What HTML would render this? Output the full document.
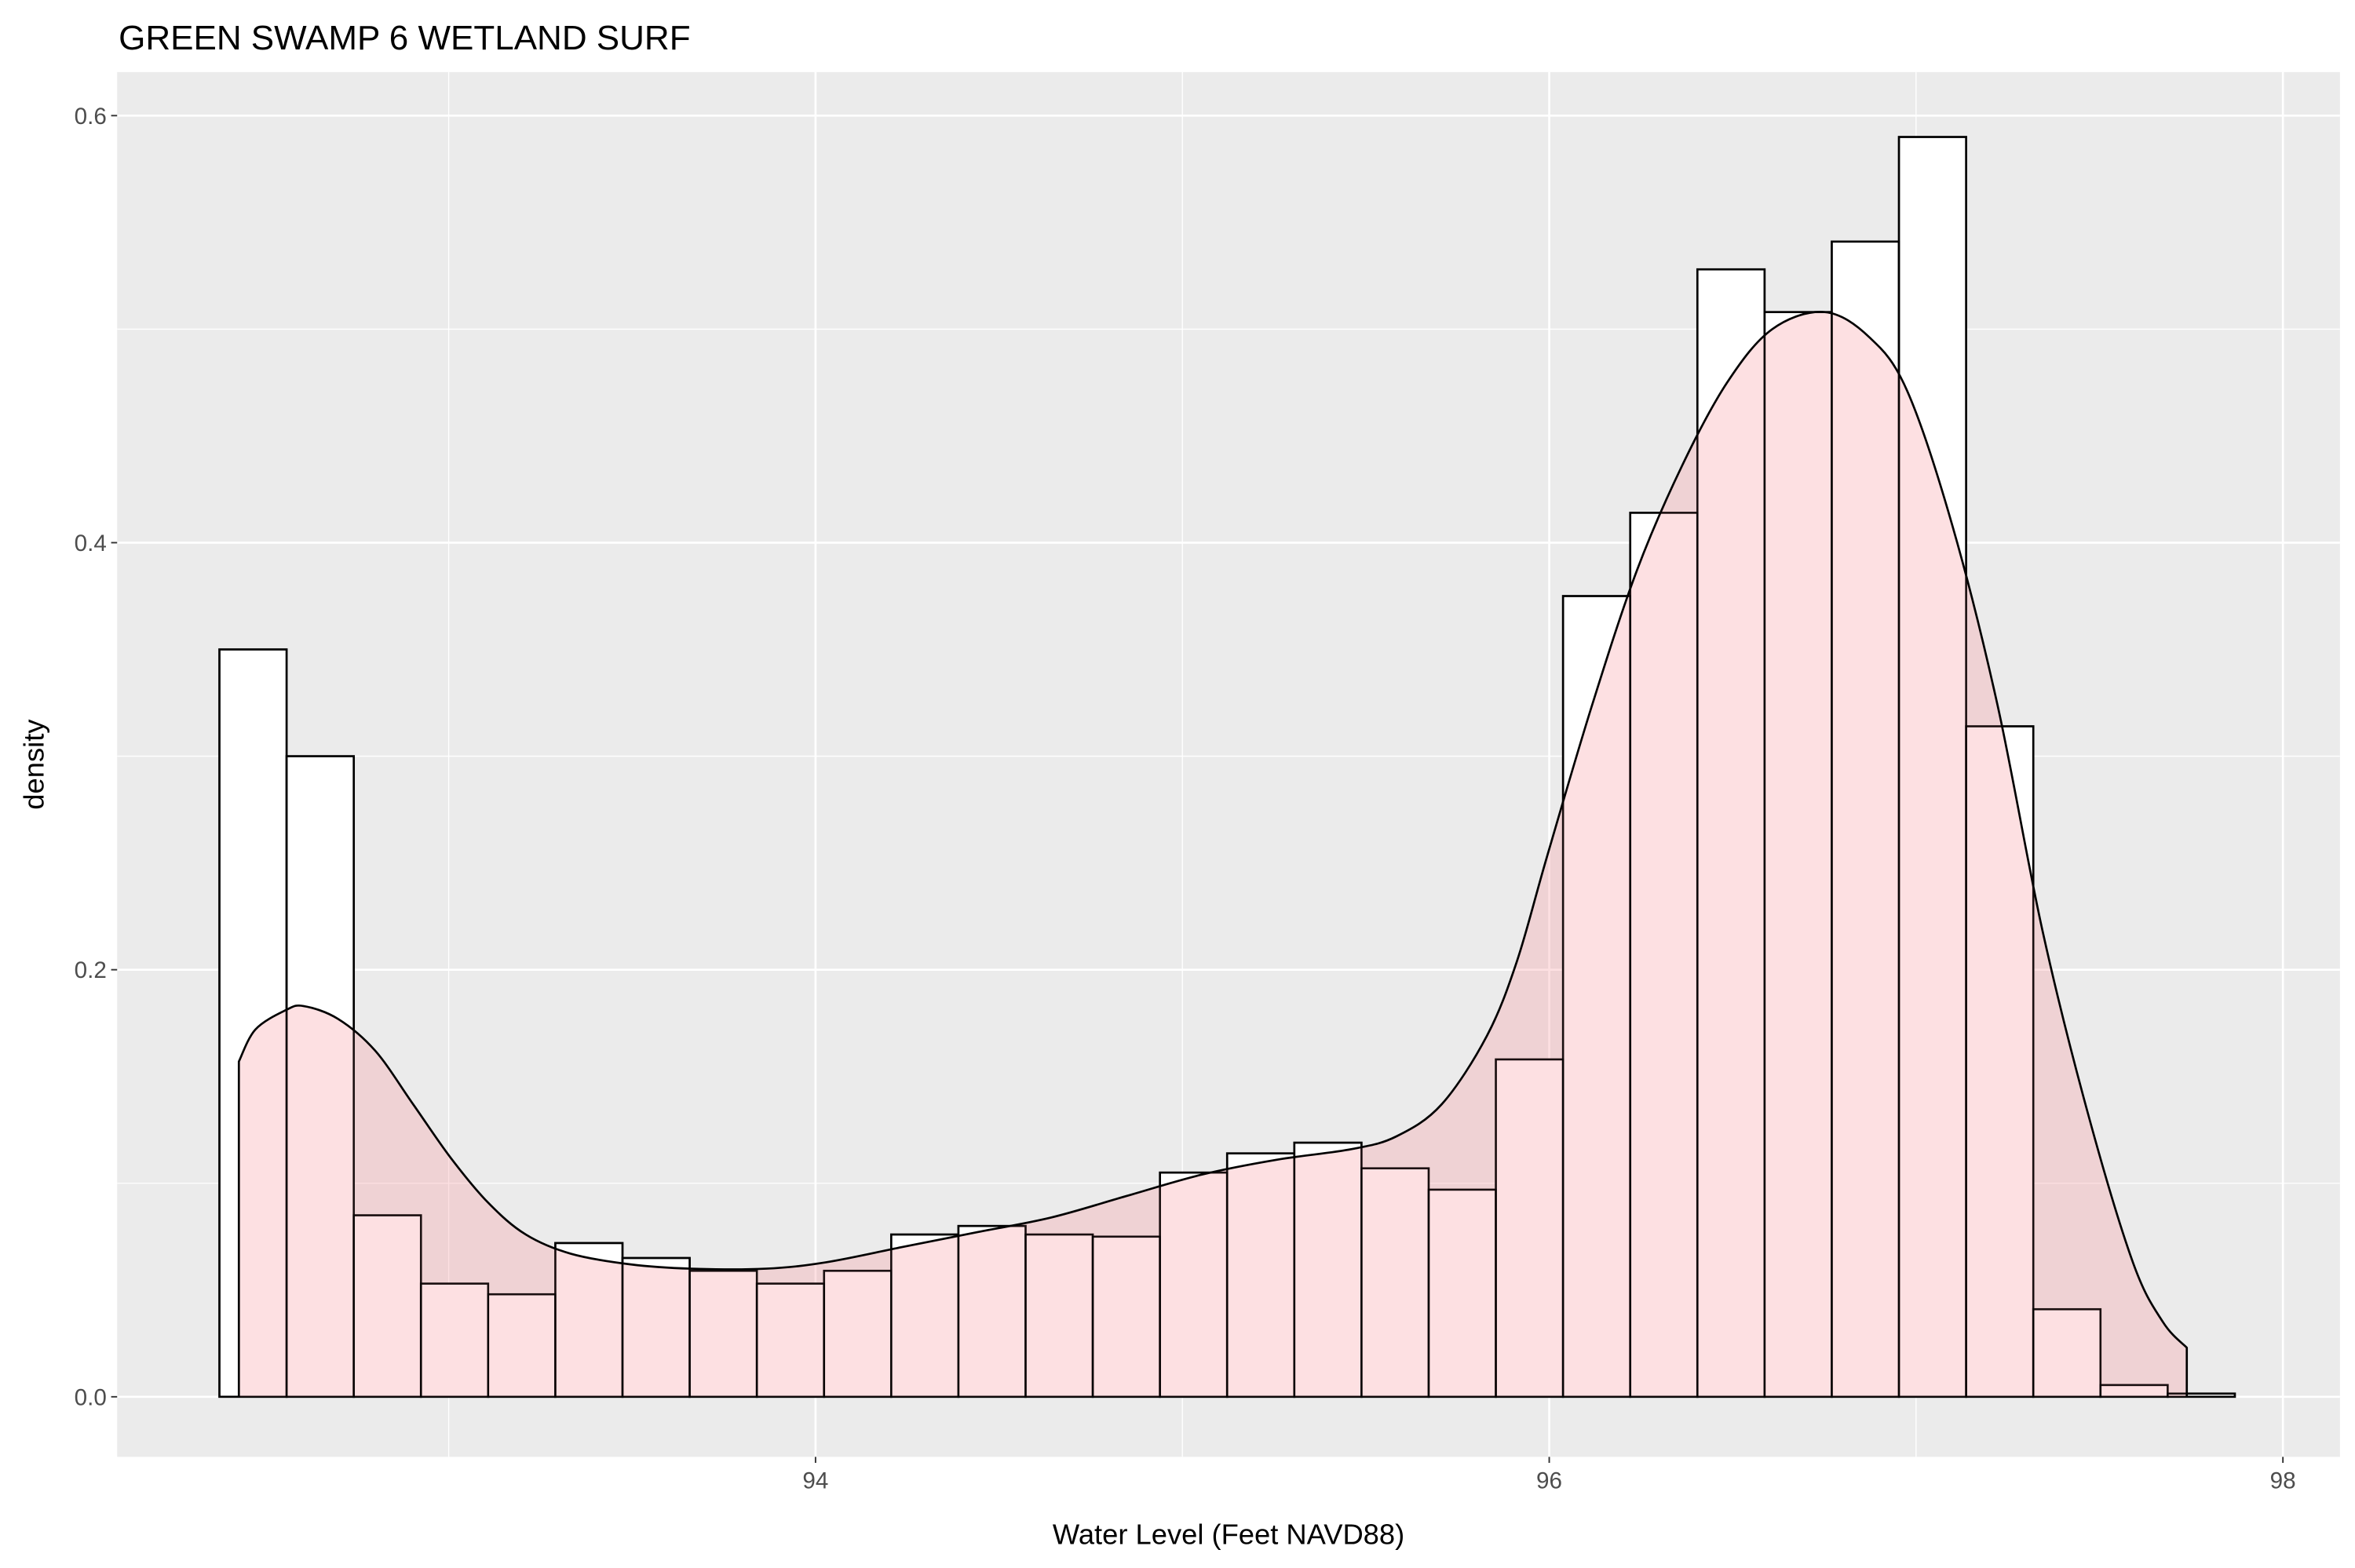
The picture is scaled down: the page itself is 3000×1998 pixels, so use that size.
<!DOCTYPE html>
<html><head><meta charset="utf-8"><style>
html,body{margin:0;padding:0;background:#fff;}
svg{display:block;}
</style></head><body>
<svg id="chart" width="3000" height="1998" viewBox="0 0 1568 1044" preserveAspectRatio="none" xmlns="http://www.w3.org/2000/svg" font-family="Liberation Sans, sans-serif">
<text x="79" y="33" font-size="23" fill="#000">GREEN SWAMP 6 WETLAND SURF</text>
<rect x="78" y="48" width="1480" height="922" fill="#ebebeb"/>
<g id="grid"></g>
<g id="bars"></g>
<g id="dens"></g>
<g id="outl"></g>
<g id="axes"></g>
<text x="818" y="1028" font-size="19" text-anchor="middle" fill="#000">Water Level (Feet NAVD88)</text>
<text transform="translate(29,509) rotate(-90)" font-size="19" text-anchor="middle" fill="#000">density</text>
</svg>
<script>
const binStart = 92.375;
const binEnd = 97.869;
const barDensity = [0.35,0.30,0.085,0.053,0.048,0.072,0.065,0.059,0.053,0.059,0.076,0.080,0.076,0.075,0.105,0.114,0.119,0.107,0.097,0.158,0.375,0.414,0.528,0.508,0.541,0.590,0.314,0.041,0.0055,0.0015];
const densX = [92.428,92.473,92.555,92.604,92.698,92.800,92.903,93.005,93.107,93.210,93.333,93.496,93.660,93.865,94.029,94.233,94.438,94.643,94.847,95.052,95.257,95.462,95.584,95.707,95.830,95.912,95.994,96.117,96.239,96.362,96.485,96.608,96.751,96.874,96.976,97.099,97.222,97.345,97.468,97.591,97.673,97.738];
const densY = [0.157,0.172,0.181,0.183,0.177,0.162,0.137,0.112,0.091,0.076,0.067,0.062,0.060,0.060,0.063,0.070,0.077,0.084,0.094,0.104,0.111,0.116,0.122,0.137,0.169,0.204,0.253,0.324,0.387,0.436,0.475,0.500,0.508,0.496,0.471,0.408,0.324,0.218,0.133,0.063,0.035,0.023];
const xTicks = [94,96,98];
const xMinor = [93,95,97];
const yTicks = [0,0.2,0.4,0.6];
const yTickLabels = ["0.0","0.2","0.4","0.6"];
const yMinor = [0.1,0.3,0.5];

const NS="http://www.w3.org/2000/svg";
const X = v => 543 + (v-94)*244.25;
const Y = v => 930 - v*1421.7;
function mk(tag, attrs, parent){const e=document.createElementNS(NS,tag);for(const k in attrs)e.setAttribute(k,attrs[k]);parent.appendChild(e);return e;}
const grid=document.getElementById('grid'), bars=document.getElementById('bars'), dens=document.getElementById('dens'), axes=document.getElementById('axes'), outl=document.getElementById('outl');
yMinor.forEach(v=>{const l=mk('line',{x1:78,x2:1558,y1:Y(v),y2:Y(v),stroke:'#fff','stroke-width':0.7},grid);

});
xMinor.forEach(v=>{const l=mk('line',{x1:X(v),x2:X(v),y1:48,y2:970,stroke:'#fff','stroke-width':0.7},grid);

});
yTicks.forEach((v,i)=>{const l=mk('line',{x1:78,x2:1558,y1:Y(v),y2:Y(v),stroke:'#fff','stroke-width':1.4},grid);


const t=mk('line',{x1:74,x2:78,y1:Y(v),y2:Y(v),stroke:'#333','stroke-width':1},axes);


const tx=mk('text',{x:71,y:Y(v)+5.5,'font-size':15.5,'text-anchor':'end',fill:'#4d4d4d'},axes);tx.textContent=yTickLabels[i];

});
xTicks.forEach(v=>{const l=mk('line',{x1:X(v),x2:X(v),y1:48,y2:970,stroke:'#fff','stroke-width':1.4},grid);


const t=mk('line',{x1:X(v),x2:X(v),y1:970,y2:974,stroke:'#333','stroke-width':1},axes);


const tx=mk('text',{x:X(v),y:991,'font-size':15.5,'text-anchor':'middle',fill:'#4d4d4d'},axes);tx.textContent=String(v);

});
const bw=(binEnd-binStart)/barDensity.length;
barDensity.forEach((d,i)=>{const x0=X(binStart+i*bw),x1=X(binStart+(i+1)*bw);
const r=mk('rect',{x:x0,y:Y(d),width:x1-x0,height:Y(0)-Y(d),fill:'#fff',stroke:'#000','stroke-width':1.4},bars);


const o=mk('rect',{x:x0,y:Y(d),width:x1-x0,height:Y(0)-Y(d),fill:'none',stroke:'#000','stroke-width':1.2,'stroke-opacity':0.7},outl);

});
const P=densX.map((x,i)=>[X(x),Y(densY[i])]);
let sp='M'+P[0][0].toFixed(2)+','+P[0][1].toFixed(2);
for(let i=0;i<P.length-1;i++){const p0=P[Math.max(0,i-1)],p1=P[i],p2=P[i+1],p3=P[Math.min(P.length-1,i+2)];
const c1=[p1[0]+(p2[0]-p0[0])/6,p1[1]+(p2[1]-p0[1])/6],c2=[p2[0]-(p3[0]-p1[0])/6,p2[1]-(p3[1]-p1[1])/6];
sp+=' C'+c1[0].toFixed(2)+','+c1[1].toFixed(2)+' '+c2[0].toFixed(2)+','+c2[1].toFixed(2)+' '+p2[0].toFixed(2)+','+p2[1].toFixed(2);}
const xs=X(densX[0]), xe=X(densX[densX.length-1]);
const a=mk('path',{d:'M'+xs+','+Y(0)+' L'+sp.slice(1)+' L'+xe+','+Y(0)+' Z',fill:'#f8a0a8','fill-opacity':0.33,stroke:'none'},dens);


const ln=mk('path',{d:'M'+xs+','+Y(0)+' L'+sp.slice(1)+' L'+xe+','+Y(0),fill:'none',stroke:'#000','stroke-width':1.4,'stroke-linejoin':'round'},dens);


</script>
</body></html>
